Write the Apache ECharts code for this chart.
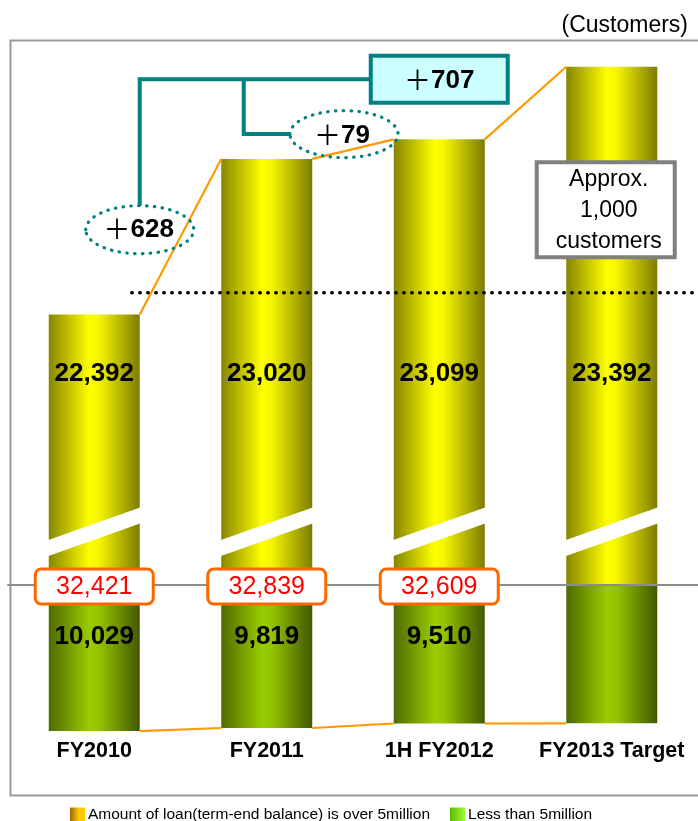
<!DOCTYPE html>
<html>
<head>
<meta charset="utf-8">
<script src="https://cdn.jsdelivr.net/npm/echarts@6/dist/echarts.min.js"></script>
<style>
  html, body { margin: 0; padding: 0; background: #ffffff; }
  #chart { width: 698px; height: 821px; }
</style>
</head>
<body>
<div id="chart"></div>
<script>
// Customer counts by loan balance (term-end), stacked around the axis break
const categories = ['FY2010', 'FY2011', '1H FY2012', 'FY2013 Target'];
const overFiveMillion = [22392, 23020, 23099, 23392];
const underFiveMillion = [10029, 9819, 9510, 9500];
const labelledCount = 3;            // the target year carries no breakdown figures
const seriesNames = ['Amount of loan(term-end balance) is over 5million', 'Less than 5million'];
const upperRange = [21300, 23500];  // upper panel: values above the break
const lowerRange = [0, 10300];      // lower panel: hangs down from the baseline
const breakLevel = 21515;           // where the break stripe crosses each bar
const referenceLevel = 22480;       // dotted guide line

const SANS = "'Liberation Sans', Arial, sans-serif";
const CJK = "'Noto Sans CJK JP', 'Noto Sans CJK SC', sans-serif";
const BAR_W = 91;
const TEAL = '#008080';
const fmt = n => n.toLocaleString('en-US');
const PLUS = '\uFF0B';

const yellowFill = {
  type: 'linear', x: 0, y: 0, x2: 1, y2: 0,
  colorStops: [
    { offset: 0, color: '#868600' },
    { offset: 0.45, color: '#ffff00' },
    { offset: 0.55, color: '#f6f600' },
    { offset: 1, color: '#7c7c00' }
  ]
};
const greenFill = {
  type: 'linear', x: 0, y: 0, x2: 1, y2: 0,
  colorStops: [
    { offset: 0, color: '#4f6a00' },
    { offset: 0.45, color: '#99cc00' },
    { offset: 0.55, color: '#93c400' },
    { offset: 1, color: '#425800' }
  ]
};

// "+N" callout text: full-width plus followed by bold figures
function changeText(x, y, diff) {
  return {
    type: 'text', x: x, y: y,
    style: {
      text: '{p|' + PLUS + '}{n|' + fmt(diff) + '}',
      align: 'center', verticalAlign: 'middle',
      rich: {
        p: { fontFamily: CJK, fontSize: 27, fontWeight: 'normal', fill: '#000', padding: [0, 0, 2, 0] },
        n: { fontFamily: SANS, fontSize: 26, fontWeight: 'bold', fill: '#000' }
      }
    }
  };
}

// white diagonal stripe marking the axis break on each bar
function renderBreak(params, api) {
  const c = api.coord([api.value(0), api.value(1)]);
  const h = BAR_W / 2 + 1, rise = 33, thick = 16;
  return {
    type: 'polygon',
    shape: { points: [
      [c[0] - h, c[1] + rise / 2 + thick / 2],
      [c[0] - h, c[1] + rise / 2 - thick / 2],
      [c[0] + h, c[1] - rise / 2 - thick / 2],
      [c[0] + h, c[1] - rise / 2 + thick / 2]
    ] },
    style: { fill: '#ffffff' }
  };
}

// orange line joining the outer corners of neighbouring bars
function renderLink(params, api) {
  const i = api.value(0);
  const a = api.coord([i, api.value(1)]);
  const b = api.coord([i + 1, api.value(2)]);
  const h = BAR_W / 2;
  return {
    type: 'line',
    shape: { x1: a[0] + h, y1: a[1], x2: b[0] - h, y2: b[1] },
    style: { stroke: '#ff9900', lineWidth: 2.2 }
  };
}

// boxed total on the baseline
function renderTotal(params, api) {
  const c = api.coord([api.value(0), 0]);
  return {
    type: 'group',
    children: [
      { type: 'rect', shape: { x: c[0] - 59, y: c[1] - 16, width: 118, height: 35, r: 6 },
        style: { fill: '#ffffff', stroke: '#ff6600', lineWidth: 3 } },
      { type: 'text', x: c[0], y: c[1] + 2,
        style: { text: fmt(api.value(1)), fill: '#ff0000', font: '25px ' + SANS, align: 'center', verticalAlign: 'middle' } }
    ]
  };
}

// dotted guide from the first bar to the right edge of the plot
function renderGuide(params, api) {
  const c = api.coord([0, api.value(1)]);
  const right = params.coordSys.x + params.coordSys.width;
  return {
    type: 'line',
    shape: { x1: c[0] + BAR_W / 2 - 8, y1: c[1], x2: right, y2: c[1] },
    style: { stroke: '#000000', lineWidth: 3.4, lineDash: [0.5, 7.5], lineCap: 'round' }
  };
}

// change callouts: +628, +79 and the combined +707, plus the target note
function renderNotes(params, api) {
  const h = BAR_W / 2;
  const x = i => api.coord([i, upperRange[0]])[0];
  const y = v => api.coord([0, v])[1];
  const o = overFiveMillion;
  const a = { cx: x(0) + h, cy: (y(o[0]) + y(o[1])) / 2 - 7, rx: 54, ry: 24 };
  const b = { cx: (x(1) + x(2)) / 2 - 9, cy: (y(o[1]) + y(o[2])) / 2 - 15, rx: 54, ry: 23.5 };
  const box = { cx: x(2), cy: y(o[2]) - 60, w: 137, h: 47 };
  const note = { cx: x(3) - 6, cy: y(o[3]) + 143, w: 138, h: 95 };
  const dotted = { fill: 'none', stroke: TEAL, lineWidth: 3.2, lineDash: [0.5, 7.3], lineCap: 'round' };
  const bracket = { fill: 'none', stroke: TEAL, lineWidth: 4, lineJoin: 'miter' };
  const branchX = x(1) - 23;
  return {
    type: 'group',
    children: [
      { type: 'polyline', shape: { points: [[a.cx, a.cy - a.ry], [a.cx, box.cy], [box.cx - box.w / 2, box.cy]] }, style: bracket },
      { type: 'polyline', shape: { points: [[branchX, box.cy], [branchX, b.cy], [b.cx - b.rx, b.cy]] }, style: bracket },
      { type: 'ellipse', shape: a, style: dotted },
      changeText(a.cx - 1, a.cy, o[1] - o[0]),
      { type: 'ellipse', shape: b, style: dotted },
      changeText(b.cx - 2, b.cy + 2, o[2] - o[1]),
      { type: 'rect', shape: { x: box.cx - box.w / 2, y: box.cy - box.h / 2, width: box.w, height: box.h },
        style: { fill: '#ccffff', stroke: TEAL, lineWidth: 4 } },
      changeText(box.cx, box.cy + 1, o[2] - o[0]),
      { type: 'rect', shape: { x: note.cx - note.w / 2, y: note.cy - note.h / 2, width: note.w, height: note.h },
        style: { fill: '#ffffff', stroke: '#808080', lineWidth: 4 } },
      { type: 'text', x: note.cx + 3, y: note.cy + 1,
        style: { text: 'Approx.\n' + fmt(o[3] - o[0]) + '\ncustomers', font: '23px ' + SANS, lineHeight: 31,
                 fill: '#000', align: 'center', verticalAlign: 'middle' } }
    ]
  };
}

const chart = echarts.init(document.getElementById('chart'), null, { renderer: 'canvas' });

chart.setOption({
  animation: false,
  backgroundColor: '#ffffff',
  title: {
    text: '(Customers)', right: 5, top: 9,
    textStyle: { fontFamily: SANS, fontSize: 23, fontWeight: 'normal', color: '#000' }
  },
  graphic: [{
    type: 'rect', left: 8, top: 38, z: -1,
    shape: { width: 700, height: 755 },
    style: { fill: 'none', stroke: '#9a9a9a', lineWidth: 2 }
  }],
  legend: {
    left: 65, top: 802, itemWidth: 15, itemHeight: 15, itemGap: 20, icon: 'rect',
    textStyle: { fontFamily: SANS, fontSize: 15.5, color: '#000', padding: [0, 0, 0, -2] },
    data: [
      { name: seriesNames[0], itemStyle: { color: { type: 'linear', x: 0, y: 0, x2: 1, y2: 0,
        colorStops: [{ offset: 0, color: '#9a6600' }, { offset: 0.6, color: '#ffcc00' }, { offset: 1, color: '#ffcc00' }] } } },
      { name: seriesNames[1], itemStyle: { color: { type: 'linear', x: 0, y: 0, x2: 1, y2: 0,
        colorStops: [{ offset: 0, color: '#5cb800' }, { offset: 1, color: '#9eff3a' }] } } }
    ]
  },
  grid: [
    { left: 8, top: 40, width: 694, height: 545 },
    { left: 8, top: 585, width: 694, height: 150 }
  ],
  xAxis: [
    { type: 'category', gridIndex: 0, data: categories, z: 3,
      axisLine: { lineStyle: { color: '#8c8c8c', width: 2 } },
      axisTick: { show: false }, axisLabel: { show: false } },
    { type: 'category', gridIndex: 1, data: categories, position: 'bottom',
      axisLine: { show: false, onZero: false }, axisTick: { show: false },
      axisLabel: { interval: 0, margin: 5, fontFamily: SANS, fontSize: 21.5, fontWeight: 'bold', color: '#000' } }
  ],
  yAxis: [
    { type: 'value', gridIndex: 0, min: upperRange[0], max: upperRange[1], startValue: upperRange[0], show: false, splitLine: { show: false } },
    { type: 'value', gridIndex: 1, min: lowerRange[0], max: lowerRange[1], inverse: true, show: false, splitLine: { show: false } }
  ],
  series: [
    {
      name: seriesNames[0], type: 'bar', xAxisIndex: 0, yAxisIndex: 0,
      barWidth: BAR_W, clip: true, data: overFiveMillion,
      itemStyle: { color: yellowFill },
      label: {
        show: true, position: 'insideBottom', distance: 198,
        formatter: p => fmt(p.value),
        fontFamily: SANS, fontSize: 26, fontWeight: 'bold', color: '#000'
      }
    },
    {
      name: seriesNames[1], type: 'bar', xAxisIndex: 1, yAxisIndex: 1,
      barWidth: BAR_W, data: underFiveMillion.map((v, i) => i < labelledCount ? v : { value: v, label: { show: false } }),
      itemStyle: { color: greenFill },
      label: {
        show: true, position: 'insideTop', distance: 39,
        formatter: p => fmt(p.value),
        fontFamily: SANS, fontSize: 26, fontWeight: 'bold', color: '#000'
      }
    },
    {
      type: 'custom', xAxisIndex: 0, yAxisIndex: 0, z: 3, silent: true,
      renderItem: renderBreak, data: categories.map((c, i) => [i, breakLevel])
    },
    {
      type: 'custom', xAxisIndex: 0, yAxisIndex: 0, z: 3, silent: true,
      renderItem: renderLink,
      data: overFiveMillion.slice(0, -1).map((v, i) => [i, v, overFiveMillion[i + 1]])
    },
    {
      type: 'custom', xAxisIndex: 1, yAxisIndex: 1, z: 3, silent: true,
      renderItem: renderLink,
      data: underFiveMillion.slice(0, -1).map((v, i) => [i, v, underFiveMillion[i + 1]])
    },
    {
      type: 'custom', xAxisIndex: 0, yAxisIndex: 0, z: 4, silent: true,
      renderItem: renderGuide, data: [[0, referenceLevel]]
    },
    {
      type: 'custom', xAxisIndex: 0, yAxisIndex: 0, z: 5, silent: true,
      renderItem: renderNotes, data: [[0, overFiveMillion[0]]]
    },
    {
      type: 'custom', xAxisIndex: 1, yAxisIndex: 1, z: 6, silent: true,
      renderItem: renderTotal,
      data: overFiveMillion.slice(0, labelledCount).map((v, i) => [i, v + underFiveMillion[i]])
    }
  ]
});
</script>
</body>
</html>
